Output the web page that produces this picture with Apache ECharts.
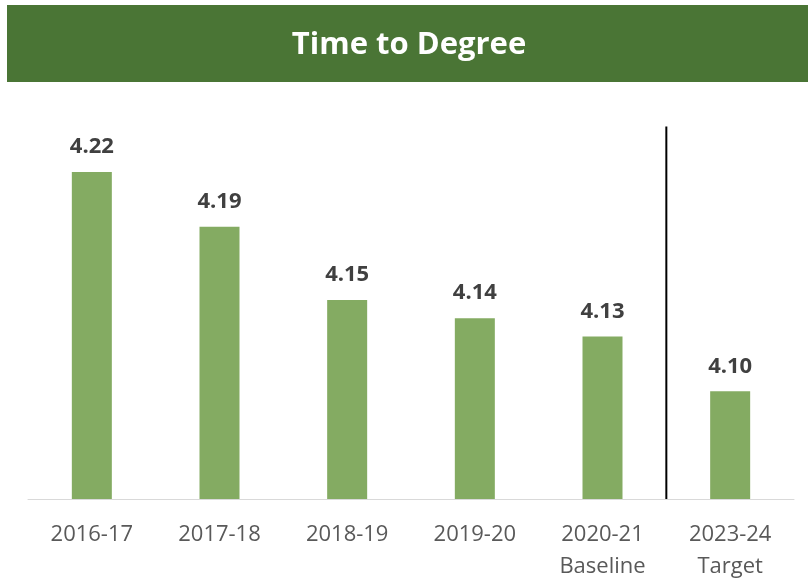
<!DOCTYPE html>
<html>
<head>
<meta charset="utf-8">
<script src="https://cdn.jsdelivr.net/npm/echarts@6/dist/echarts.min.js"></script>
<style>
  html, body { margin: 0; padding: 0; background: #fff; }
  #chart { width: 808px; height: 585px; }
</style>
</head>
<body>
<div id="chart"></div>
<script>
const categories = ['2016-17', '2017-18', '2018-19', '2019-20', '2020-21\nBaseline', '2023-24\nTarget']
const values = [4.22, 4.19, 4.15, 4.14, 4.13, 4.10]
// divider between baseline and target, on a hidden 0..6 value axis
const dividerLine = [[5, 4.041], [5, 4.245]]

const chart = echarts.init(document.getElementById('chart'))

const option = {
  animation: false,
  graphic: [
    {
      type: 'rect',
      shape: { x: 7, y: 5, width: 801, height: 77 },
      style: { fill: '#4a7535' }
    },
    {
      type: 'text',
      x: 409,
      y: 45,
      style: {
        text: 'Time to Degree',
        fill: '#fff',
        font: 'bold 31px "Open Sans"',
        align: 'center',
        verticalAlign: 'middle'
      }
    }
  ],
  grid: { left: 28, right: 14, top: 99, bottom: 86 },
  xAxis: [
    {
      type: 'category',
      data: categories,
      axisLine: { lineStyle: { color: '#d9d9d9', width: 1 } },
      axisTick: { show: false },
      axisLabel: {
        color: '#595959',
        fontSize: 22,
        fontFamily: 'Open Sans',
        lineHeight: 32,
        margin: 20
      }
    },
    {
      type: 'value',
      min: 0,
      max: 6,
      show: false
    }
  ],
  yAxis: {
    type: 'value',
    min: 4.041,
    max: 4.26,
    show: false,
    splitLine: { show: false }
  },
  series: [
    {
      type: 'bar',
      data: values,
      barWidth: 40,
      itemStyle: { color: '#84ab62' },
      label: {
        show: true,
        position: 'top',
        distance: 14,
        formatter: p => p.value.toFixed(2),
        color: '#404040',
        fontSize: 22,
        fontWeight: 'bold',
        fontFamily: 'Open Sans'
      }
    },
    {
      type: 'line',
      xAxisIndex: 1,
      data: dividerLine,
      symbol: 'none',
      lineStyle: { color: '#000', width: 2 }
    }
  ]
}

chart.setOption(option)
</script>
</body>
</html>
